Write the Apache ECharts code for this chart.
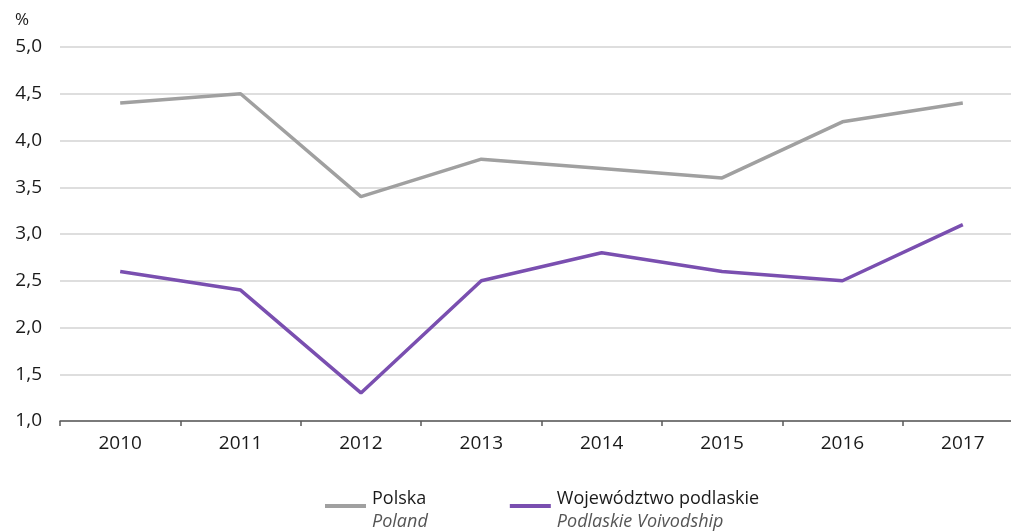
<!DOCTYPE html>
<html>
<head>
<meta charset="utf-8">
<script src="https://cdn.jsdelivr.net/npm/echarts@6/dist/echarts.min.js"></script>
<style>
  html, body { margin: 0; padding: 0; background: #fff; }
  #chart { width: 1011px; height: 531px; }
</style>
</head>
<body>
<div id="chart"></div>
<script>
const years = ['2010', '2011', '2012', '2013', '2014', '2015', '2016', '2017'];
const polska = [4.4, 4.5, 3.4, 3.8, 3.7, 3.6, 4.2, 4.4];
const podlaskie = [2.6, 2.4, 1.3, 2.5, 2.8, 2.6, 2.5, 3.1];
const seriesNames = ['Polska', 'Województwo podlaskie'];
const seriesNamesEn = ['Poland', 'Podlaskie Voivodship'];

const FONT = '"Open Sans", "Noto Sans", sans-serif';
const chart = echarts.init(document.getElementById('chart'));

chart.setOption({
  animation: false,
  textStyle: { fontFamily: FONT },
  grid: { left: 60, top: 47, right: -12, bottom: 110, containLabel: false, outerBoundsMode: 'none' },
  xAxis: {
    type: 'category',
    data: years,
    boundaryGap: true,
    axisLine: { lineStyle: { color: '#5a5a5a', width: 1.5 } },
    axisTick: { show: true, length: 5, inside: false, lineStyle: { color: '#5a5a5a', width: 1.5 } },
    axisLabel: { color: '#1a1a1a', fontSize: 19, margin: 13, fontFamily: FONT }
  },
  yAxis: {
    type: 'value',
    min: 1,
    max: 5,
    interval: 0.5,
    name: '%',
    nameLocation: 'end',
    nameGap: 18,
    nameTextStyle: { color: '#1a1a1a', fontSize: 17, align: 'right', padding: [0, 31, 0, 0], fontFamily: FONT },
    axisLine: { show: false },
    axisTick: { show: false },
    splitLine: { lineStyle: { color: '#d3d3d3', width: 1.5 } },
    axisLabel: {
      color: '#1a1a1a', fontSize: 19, margin: 18, fontFamily: FONT,
      formatter: v => v.toFixed(1).replace('.', ',')
    }
  },
  legend: {
    bottom: 0,
    left: 325,
    padding: 0,
    itemGap: 82,
    itemWidth: 41,
    itemHeight: 4,
    icon: 'rect',
    data: seriesNames,
    formatter: name => {
      const i = seriesNames.indexOf(name);
      return '{a|' + name + '}\n{b|' + seriesNamesEn[i] + '}';
    },
    textStyle: {
      padding: [9, 0, 0, 1],
      rich: {
        a: { fontSize: 18, color: '#1a1a1a', lineHeight: 23, fontFamily: FONT },
        b: { fontSize: 18, color: '#555', fontStyle: 'italic', lineHeight: 23, fontFamily: FONT }
      }
    }
  },
  series: [
    {
      name: seriesNames[0],
      type: 'line',
      data: polska,
      symbol: 'none',
      color: '#a0a0a0',
      lineStyle: { color: '#a0a0a0', width: 3.5 }
    },
    {
      name: seriesNames[1],
      type: 'line',
      data: podlaskie,
      symbol: 'none',
      color: '#7a4fb0',
      lineStyle: { color: '#7a4fb0', width: 3.5 }
    }
  ]
});
</script>
</body>
</html>
